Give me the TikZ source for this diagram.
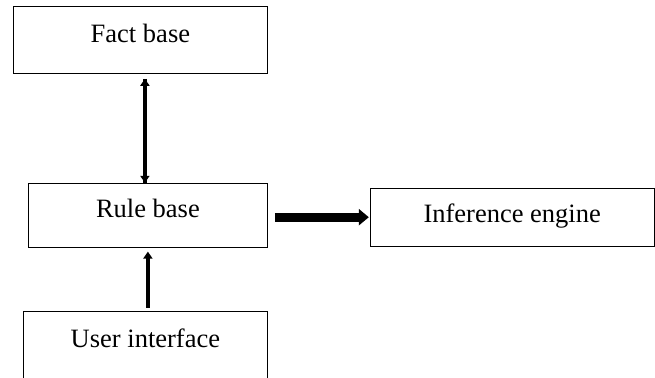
\documentclass[tikz,border=0pt]{standalone}
\usepackage{fontspec}
\setmainfont{Liberation Serif}
\usetikzlibrary{positioning,arrows.meta}

\begin{document}
\begin{tikzpicture}[
  box/.style={draw, line width=0.8pt, align=center, inner sep=0pt, font=\fontsize{26.5}{30}\selectfont},
  arr/.style={-{Triangle[width=9pt,length=7pt]}, line width=4pt},
  thick arr/.style={-{Triangle[width=16pt,length=10pt]}, line width=9pt}
]
\useasboundingbox (0,0) rectangle (655pt,-377pt);

\node[box, anchor=north west, minimum width=254pt, minimum height=67pt, text depth=13pt] (fact) at (13pt,-6pt) {Fact base};
\node[box, below=109pt of fact.south east, anchor=north east, minimum width=239pt, minimum height=64pt, text depth=13pt] (rule) {Rule base};
\node[box, below=63pt of rule.south east, anchor=north east, minimum width=244pt, minimum height=68pt, text depth=13pt] (user) {User interface};
\node[box, right=102pt of rule.east, yshift=-2pt, minimum width=284pt, minimum height=58pt, text depth=8pt] (inf) {Inference engine};

% fact base <-> rule base
\draw[arr, shorten <=5pt] ([xshift=4.5pt]fact.south) -- ([xshift=4.5pt]fact.south |- rule.north);
\draw[arr, shorten >=5pt] ([xshift=4.5pt]fact.south |- rule.north) -- ([xshift=4.5pt]fact.south);
\draw[arr, shorten <=3pt, shorten >=4pt] (user.north -| rule.south) -- (rule.south);
\draw[thick arr, shorten <=7pt, shorten >=1pt] (rule.east |- inf.west) -- (inf.west);
\end{tikzpicture}
\end{document}
